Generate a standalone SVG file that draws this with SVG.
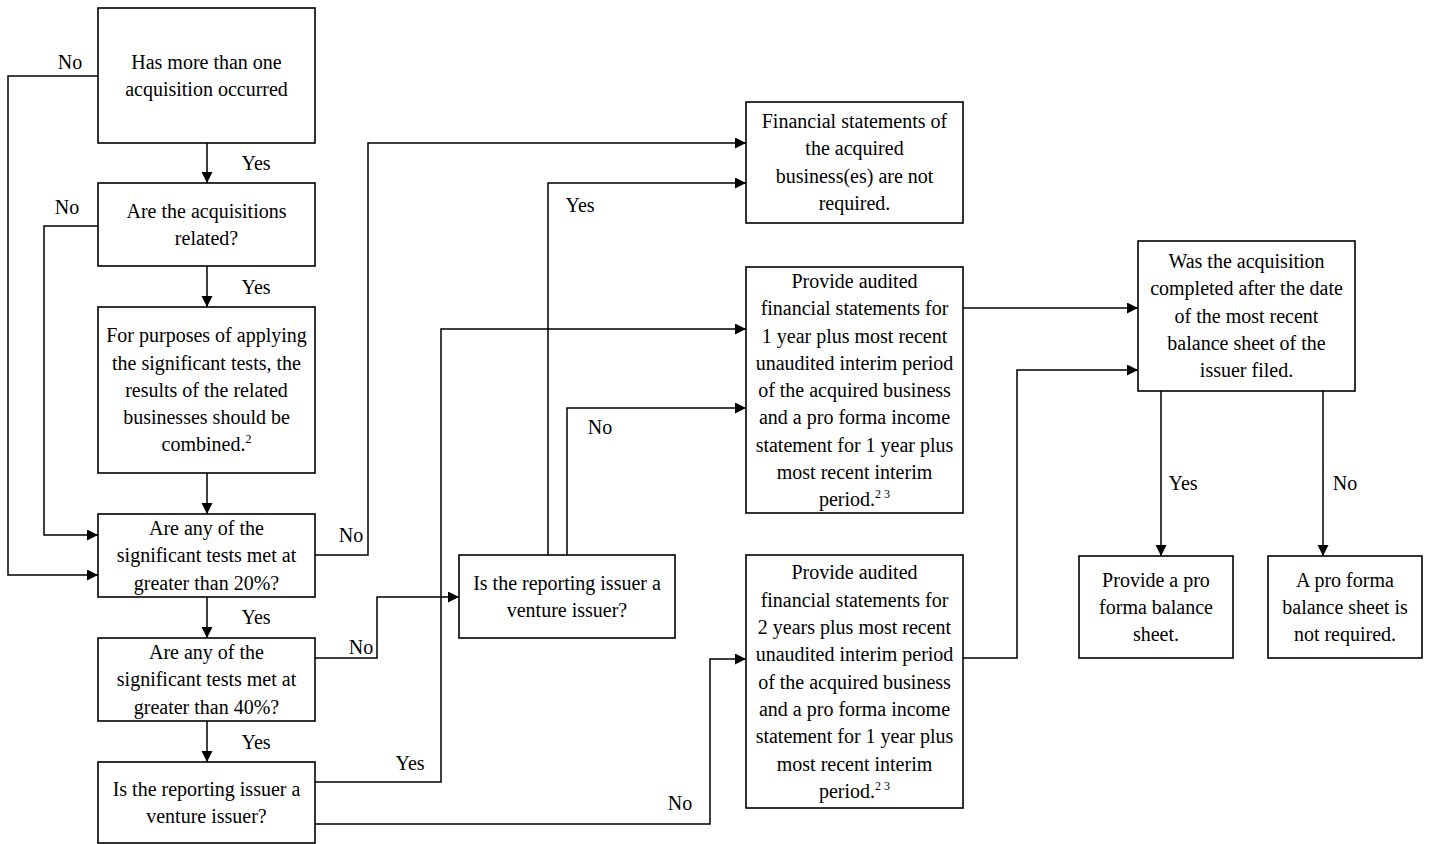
<svg xmlns="http://www.w3.org/2000/svg" width="1429" height="844" viewBox="0 0 1429 844">
<style>
.box{fill:#fff;stroke:#000;stroke-width:1.6}
.t{font-family:"Liberation Serif","Times New Roman",serif;font-size:20px;fill:#000;text-anchor:middle}
.l{font-family:"Liberation Serif","Times New Roman",serif;font-size:20px;fill:#000;text-anchor:middle}
.sup{font-size:12px}
.c{fill:none;stroke:#000;stroke-width:1.5}
</style>
<defs>
<marker id="ah" markerUnits="userSpaceOnUse" markerWidth="12" markerHeight="12" refX="11" refY="5.5" orient="auto">
<path d="M0,0 L11,5.5 L0,11 z" fill="#000"/>
</marker>
</defs>
<rect width="1429" height="844" fill="#fff"/>
<g id="connectors">
<path class="c" d="M207,143 V183" marker-end="url(#ah)"/>
<path class="c" d="M207,266 V307" marker-end="url(#ah)"/>
<path class="c" d="M207,473 V514" marker-end="url(#ah)"/>
<path class="c" d="M207,597 V638" marker-end="url(#ah)"/>
<path class="c" d="M207,721 V762" marker-end="url(#ah)"/>
<path class="c" d="M98,76 H8 V575 H98" marker-end="url(#ah)"/>
<path class="c" d="M98,226 H44 V535 H98" marker-end="url(#ah)"/>
<path class="c" d="M315,555 H368 V143 H746" marker-end="url(#ah)"/>
<path class="c" d="M315,658 H377 V597 H459" marker-end="url(#ah)"/>
<path class="c" d="M315,782 H441 V329 H746" marker-end="url(#ah)"/>
<path class="c" d="M315,824 H710 V659 H746" marker-end="url(#ah)"/>
<path class="c" d="M548,555 V183 H746" marker-end="url(#ah)"/>
<path class="c" d="M567,555 V408 H746" marker-end="url(#ah)"/>
<path class="c" d="M963,308 H1138" marker-end="url(#ah)"/>
<path class="c" d="M963,658 H1017 V370 H1138" marker-end="url(#ah)"/>
<path class="c" d="M1161,391 V556" marker-end="url(#ah)"/>
<path class="c" d="M1323,391 V556" marker-end="url(#ah)"/>
<text class="l" x="70" y="69">No</text>
<text class="l" x="256" y="170">Yes</text>
<text class="l" x="67" y="214">No</text>
<text class="l" x="256" y="294">Yes</text>
<text class="l" x="351" y="542">No</text>
<text class="l" x="256" y="624">Yes</text>
<text class="l" x="361" y="654">No</text>
<text class="l" x="256" y="749">Yes</text>
<text class="l" x="410" y="770">Yes</text>
<text class="l" x="680" y="810">No</text>
<text class="l" x="580" y="212">Yes</text>
<text class="l" x="600" y="434">No</text>
<text class="l" x="1183" y="490">Yes</text>
<text class="l" x="1345" y="490">No</text>
</g>
<g id="n1">
<rect class="box" x="98" y="8" width="217" height="135"/>
<text class="t" x="206.5" y="69">Has more than one</text>
<text class="t" x="206.5" y="96">acquisition occurred</text>
</g>
<g id="n2">
<rect class="box" x="98" y="183" width="217" height="83"/>
<text class="t" x="206.5" y="218">Are the acquisitions</text>
<text class="t" x="206.5" y="245">related?</text>
</g>
<g id="n3">
<rect class="box" x="98" y="307" width="217" height="166"/>
<text class="t" x="206.5" y="342">For purposes of applying</text>
<text class="t" x="206.5" y="370">the significant tests, the</text>
<text class="t" x="206.5" y="397">results of the related</text>
<text class="t" x="206.5" y="424">businesses should be</text>
<text class="t" x="206.5" y="451">combined.<tspan class="sup" dy="-8">2</tspan></text>
</g>
<g id="n4">
<rect class="box" x="98" y="514" width="217" height="83"/>
<text class="t" x="206.5" y="535">Are any of the</text>
<text class="t" x="206.5" y="562">significant tests met at</text>
<text class="t" x="206.5" y="590">greater than 20%?</text>
</g>
<g id="n5">
<rect class="box" x="98" y="638" width="217" height="83"/>
<text class="t" x="206.5" y="659">Are any of the</text>
<text class="t" x="206.5" y="686">significant tests met at</text>
<text class="t" x="206.5" y="714">greater than 40%?</text>
</g>
<g id="n6">
<rect class="box" x="98" y="762" width="217" height="81"/>
<text class="t" x="206.5" y="796">Is the reporting issuer a</text>
<text class="t" x="206.5" y="823">venture issuer?</text>
</g>
<g id="n7">
<rect class="box" x="459" y="555" width="216" height="83"/>
<text class="t" x="567" y="590">Is the reporting issuer a</text>
<text class="t" x="567" y="617">venture issuer?</text>
</g>
<g id="n8">
<rect class="box" x="746" y="102" width="217" height="121"/>
<text class="t" x="854.5" y="128">Financial statements of</text>
<text class="t" x="854.5" y="155">the acquired</text>
<text class="t" x="854.5" y="183">business(es) are not</text>
<text class="t" x="854.5" y="210">required.</text>
</g>
<g id="n9">
<rect class="box" x="746" y="267" width="217" height="246"/>
<text class="t" x="854.5" y="288">Provide audited</text>
<text class="t" x="854.5" y="315">financial statements for</text>
<text class="t" x="854.5" y="343">1 year plus most recent</text>
<text class="t" x="854.5" y="370">unaudited interim period</text>
<text class="t" x="854.5" y="397">of the acquired business</text>
<text class="t" x="854.5" y="424">and a pro forma income</text>
<text class="t" x="854.5" y="452">statement for 1 year plus</text>
<text class="t" x="854.5" y="479">most recent interim</text>
<text class="t" x="854.5" y="506">period.<tspan class="sup" dy="-8">2 3</tspan></text>
</g>
<g id="n10">
<rect class="box" x="746" y="555" width="217" height="253"/>
<text class="t" x="854.5" y="579">Provide audited</text>
<text class="t" x="854.5" y="607">financial statements for</text>
<text class="t" x="854.5" y="634">2 years plus most recent</text>
<text class="t" x="854.5" y="661">unaudited interim period</text>
<text class="t" x="854.5" y="689">of the acquired business</text>
<text class="t" x="854.5" y="716">and a pro forma income</text>
<text class="t" x="854.5" y="743">statement for 1 year plus</text>
<text class="t" x="854.5" y="771">most recent interim</text>
<text class="t" x="854.5" y="798">period.<tspan class="sup" dy="-8">2 3</tspan></text>
</g>
<g id="n11">
<rect class="box" x="1138" y="241" width="217" height="150"/>
<text class="t" x="1246.5" y="268">Was the acquisition</text>
<text class="t" x="1246.5" y="295">completed after the date</text>
<text class="t" x="1246.5" y="323">of the most recent</text>
<text class="t" x="1246.5" y="350">balance sheet of the</text>
<text class="t" x="1246.5" y="377">issuer filed.</text>
</g>
<g id="n12">
<rect class="box" x="1079" y="556" width="154" height="102"/>
<text class="t" x="1156" y="587">Provide a pro</text>
<text class="t" x="1156" y="614">forma balance</text>
<text class="t" x="1156" y="641">sheet.</text>
</g>
<g id="n13">
<rect class="box" x="1268" y="556" width="154" height="102"/>
<text class="t" x="1345" y="587">A pro forma</text>
<text class="t" x="1345" y="614">balance sheet is</text>
<text class="t" x="1345" y="641">not required.</text>
</g>
</svg>
